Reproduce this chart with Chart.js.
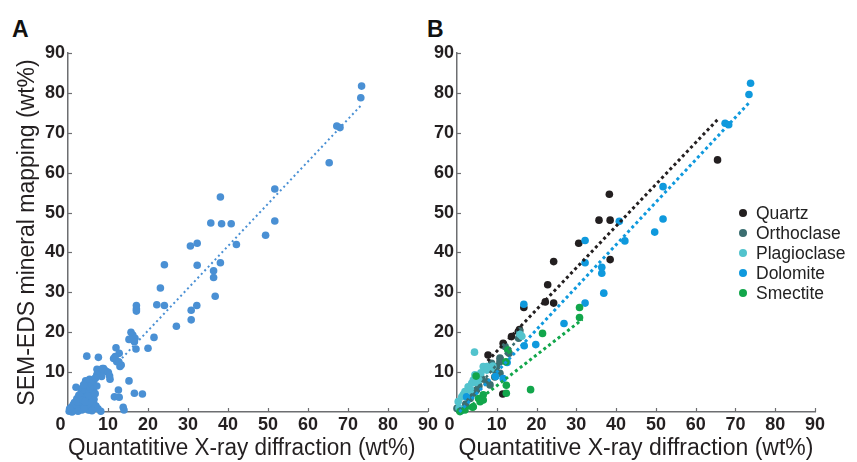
<!DOCTYPE html>
<html>
<head>
<meta charset="utf-8">
<script src="https://cdn.jsdelivr.net/npm/chart.js@4.4.1/dist/chart.umd.min.js"></script>
<style>
  body{margin:0;background:#fff;width:857px;height:462px;overflow:hidden;position:relative;font-family:"Liberation Sans",Arial,sans-serif;}
  canvas{position:absolute;top:0;}
  #cA{left:0;}
  #cB{left:425px;}
  .panel{position:absolute;font-weight:bold;font-size:23px;color:#111;}
  #legend{position:absolute;left:737px;top:203px;font-size:17.5px;color:#222;}
  #legend div{height:20px;line-height:20px;white-space:nowrap;}
  #legend span{display:inline-block;width:8px;height:8px;border-radius:50%;margin:0 9px 2px 2px;vertical-align:middle;}
</style>
</head>
<body>
<div class="panel" style="left:12px;top:16px;">A</div>
<div class="panel" style="left:427px;top:16px;">B</div>
<canvas id="cA" width="440" height="462"></canvas>
<canvas id="cB" width="432" height="462"></canvas>
<div id="legend"></div>
<script>
// ===================== Data =====================
const axisTicks = [0,10,20,30,40,50,60,70,80,90];
const xTitle = "Quantatitive X-ray diffraction (wt%)";
const yTitle = "SEM-EDS mineral mapping (wt%)";

// Panel A: all minerals [XRD, SEM-EDS]
const allPoints = [
  [73.4,81.7],[73.2,78.8],[67.2,71.7],[68.0,71.3],[65.3,62.5],[51.7,55.9],[51.7,47.9],[49.4,44.3],
  [38.1,53.9],[35.7,47.4],[38.4,47.2],[40.8,47.2],[42.1,42.0],[30.6,41.6],[32.3,42.3],[24.1,36.9],
  [32.3,36.8],[36.4,35.4],[36.4,33.7],[38.1,37.4],[36.8,29.0],[23.1,31.1],[22.2,26.9],[24.1,26.7],
  [30.8,25.5],[32.2,26.7],[30.8,23.1],[27.1,21.5],[17.1,26.7],[17.1,25.8],[17.1,25.3],[15.75,20.0],
  [16.2,19.3],[16.75,18.5],[15.25,18.2],[16.6,17.6],[17.0,15.8],[21.5,18.7],[20.0,16.0],[12.0,16.1],
  [12.8,14.7],[11.4,13.4],[12.2,12.6],[13.0,11.4],[4.7,14.0],[7.6,13.7],
  [7.25,10.7],[8.9,10.9],[9.75,10.1],[8.1,9.7],[7.6,10.5],[8.6,10.9],[9.25,10.4],[10.1,9.9],
  [10.5,8.2],[8.4,8.9],[7.2,9.3],[6.75,8.4],[10.4,9.0],[11.8,13.9],[12.7,12.6],[13.3,11.8],
  [15.25,7.8],[12.6,5.5],[16.6,4.7],[18.6,4.5],[11.6,3.8],[12.8,3.7],[13.8,1.2],[14.0,0.5],
  [6.3,3.8],[6.4,2.3],[5.1,0.5],[8.2,0.2],
  [0.3,0.2],[0.6,0.5],[0.9,0.3],[1.2,0.8],[1.5,0.4],[0.8,1.2],[1.8,1.5],[2.1,0.9],[2.4,2.0],[1.6,2.4],
  [2.8,1.3],[3.0,2.8],[2.2,3.3],[3.4,3.6],[2.7,4.2],[3.8,2.2],[4.1,4.5],[3.3,5.0],[4.5,3.2],[2.0,6.2],
  [3.6,6.0],[4.2,5.6],[4.8,6.4],[5.0,7.3],[4.4,7.8],[3.9,6.8],[5.3,5.0],[5.6,6.2],[6.0,7.0],[5.8,4.0],
  [6.3,5.6],[6.5,3.2],[6.8,4.6],[6.3,1.3],[7.0,1.5],[5.2,0.6],[4.6,1.6],[3.5,0.5],[4.0,1.0],[5.5,2.5],
  [2.5,0.2],[1.0,0.0],[6.0,0.3],[7.5,0.8],[5.4,8.2],[6.4,7.9],[7.2,6.5],[6.9,8.6],[4.9,4.0],[3.1,3.9],
  [1.3,1.8],[0.4,0.8],[2.3,2.6],[3.7,3.0],[4.3,2.6]
];
const allFit = [[13.5,13.5],[73.2,76.8]];

// Panel B: by mineral
const minerals = ["Quartz","Orthoclase","Plagioclase","Dolomite","Smectite"];
const mineralColors = ["#231f20","#3b6e70","#52c3cd","#0f99dd","#12a64b"];
const quartz = [
  [65.5,63.2],[38.3,54.6],[35.7,48.1],[38.5,48.1],[30.6,42.3],[24.3,37.7],[22.8,31.9],[22.2,27.6],
  [24.3,27.3],[16.8,26.2],[38.5,38.2],[15.7,20.7],[15.4,20.1],[7.8,14.3],[11.5,4.5],[11.6,17.2],[13.7,18.9]
];
const orthoclase = [
  [15.8,20.3],[15.5,18.5],[12.1,16.4],[13.1,14.7],[10.8,13.5],[10.8,12.6],[8.7,12.2],[9.5,10.5],
  [10.8,9.7],[10.0,11.4],[9.5,8.8],[6.2,8.4],[7.5,7.6],[8.3,6.8],[4.1,4.7],[3.3,3.4],[4.9,5.5],
  [0.0,0.9],[1.0,0.5],[2.2,2.0],[5.5,6.5]
];
const plagioclase = [
  [4.4,15.0],[15.8,19.5],[16.3,19.0],[7.8,11.1],[9.0,11.5],[7.5,11.4],[6.6,11.4],[7.5,10.5],[4.5,9.3],
  [4.1,8.0],[3.7,7.2],[2.8,6.3],[2.0,5.1],[1.2,3.8],[0.3,2.6],[5.5,8.0],[3.4,5.5],[6.0,9.8],[8.5,10.8],
  [4.8,7.4],[0.5,1.0],[1.6,4.4]
];
const dolomite = [
  [73.8,82.4],[73.4,79.6],[67.4,72.4],[68.3,72.0],[51.8,56.5],[51.8,48.4],[49.7,45.1],[40.8,47.8],
  [42.2,42.9],[32.2,43.0],[32.2,37.4],[36.4,36.3],[36.4,34.8],[36.9,29.8],[32.2,27.3],[26.9,22.2],
  [16.8,27.0],[19.8,16.9],[16.9,16.6],[12.6,12.4],[9.7,8.9],[11.6,8.4],[2.4,3.8],[1.0,0.3]
];
const smectite = [
  [30.8,26.2],[30.8,23.7],[21.5,19.7],[18.5,5.6],[12.4,6.7],[12.4,4.7],[12.8,15.5],[12.3,12.6],
  [4.8,9.0],[6.6,4.3],[5.8,2.6],[3.9,1.2],[5.4,3.4],[6.6,3.0],[4.1,1.3],[2.0,0.5],[0.75,0.1]
];
const quartzFit = [[7.7,12.8],[65.6,73.4]];
const orthoclaseFit = [[0.5,0.5],[15.5,18.5]];
const dolomiteFit = [[0.6,0.0],[73.4,77.5]];
const smectiteFit = [[1.5,0.0],[31.5,23.2]];

// ===================== Helpers =====================
const FONT = '"Liberation Sans", Arial, sans-serif';
const AXIS = "#6d6e71";
const toXY = arr => arr.map(p => ({x:p[0], y:p[1]}));

const innerTicks = {
  id:'innerTicks',
  afterDraw(chart){
    const {ctx, chartArea, scales:{x, y}} = chart;
    ctx.save();
    ctx.strokeStyle = AXIS; ctx.lineWidth = 1.2;
    axisTicks.forEach(v => {
      if(v===0) return;
      const px = Math.round(x.getPixelForValue(v))+0.5;
      ctx.beginPath(); ctx.moveTo(px, chartArea.bottom); ctx.lineTo(px, chartArea.bottom-4); ctx.stroke();
      const py = Math.round(y.getPixelForValue(v))+0.5;
      ctx.beginPath(); ctx.moveTo(chartArea.left, py); ctx.lineTo(chartArea.left+4, py); ctx.stroke();
    });
    ctx.restore();
  }
};

function scatterSet(label, pts, color, order){
  return {type:'scatter', label, data:toXY(pts), backgroundColor:color, borderWidth:0,
          pointRadius:3.8, pointHoverRadius:3.8, clip:false, order};
}
function fitSet(pts, color, width, dash, order){
  return {type:'line', data:toXY(pts), borderColor:color, borderWidth:width, borderDash:dash,
          pointRadius:0, fill:false, clip:false, order};
}

function makeOptions(yWidth, withTitle, padRight, xText){
  return {
    responsive:false, animation:false, devicePixelRatio:1,
    layout:{padding:{left:0, right:padRight, top:53, bottom:0}},
    plugins:{legend:{display:false}, tooltip:{enabled:false}},
    scales:{
      x:{type:'linear', min:0, max:90,
         afterBuildTicks: s => { s.ticks = axisTicks.map(v => ({value:v})); },
         afterFit: s => { s.height = 50; },
         grid:{display:false, drawTicks:false},
         border:{display:true, color:AXIS, width:1.5},
         ticks:{padding:2, color:"#231f20", font:{family:FONT, size:18, weight:'bold'},
                maxRotation:0, autoSkip:false, callback: v => v===0 ? '0   ' : String(v)},
         title:{display:true, text:xText, color:"#231f20", font:{family:FONT, size:23},
                padding:{top:0, bottom:0}}
      },
      y:{type:'linear', min:0, max:90,
         afterBuildTicks: s => { s.ticks = axisTicks.map(v => ({value:v})); },
         afterFit: s => { s.width = yWidth; },
         grid:{display:false, drawTicks:false},
         border:{display:true, color:AXIS, width:1.5},
         ticks:{padding:3, color:"#231f20", font:{family:FONT, size:18, weight:'bold'},
                autoSkip:false, callback: v => v===0 ? '' : String(v)},
         title:{display:withTitle, text:yTitle, color:"#231f20", font:{family:FONT, size:23},
                padding:{top:14, bottom:0}}
      }
    }
  };
}

// ===================== Panel A =====================
new Chart(document.getElementById("cA"), {
  type:'scatter',
  data:{datasets:[
    fitSet(allFit, "#4a90d4", 2, [2,3], 0),
    scatterSet("All", allPoints, "#4a90d4", 1)
  ]},
  options:makeOptions(68, true, 12, xTitle + "  "),
  plugins:[innerTicks]
});

// ===================== Panel B =====================
const bPoints = [quartz, orthoclase, plagioclase, dolomite, smectite];
new Chart(document.getElementById("cB"), {
  type:'scatter',
  data:{datasets:[
    fitSet(quartzFit, mineralColors[0], 3, [3,3], 0),
    fitSet(dolomiteFit, mineralColors[3], 3, [3,3], 0),
    fitSet(smectiteFit, mineralColors[4], 3, [3,3], 0),
    fitSet(orthoclaseFit, mineralColors[1], 2.5, [3,3], 0),
    ...bPoints.map((p,i) => scatterSet(minerals[i], p, mineralColors[i], [9,8,7,6,5][i]))
  ]},
  options:makeOptions(32, false, 42, xTitle),
  plugins:[innerTicks]
});

// ===================== Legend =====================
document.getElementById("legend").innerHTML = minerals.map((m,i) =>
  `<div><span style="background:${mineralColors[i]}"></span>${m}</div>`).join("");
</script>
</body>
</html>
